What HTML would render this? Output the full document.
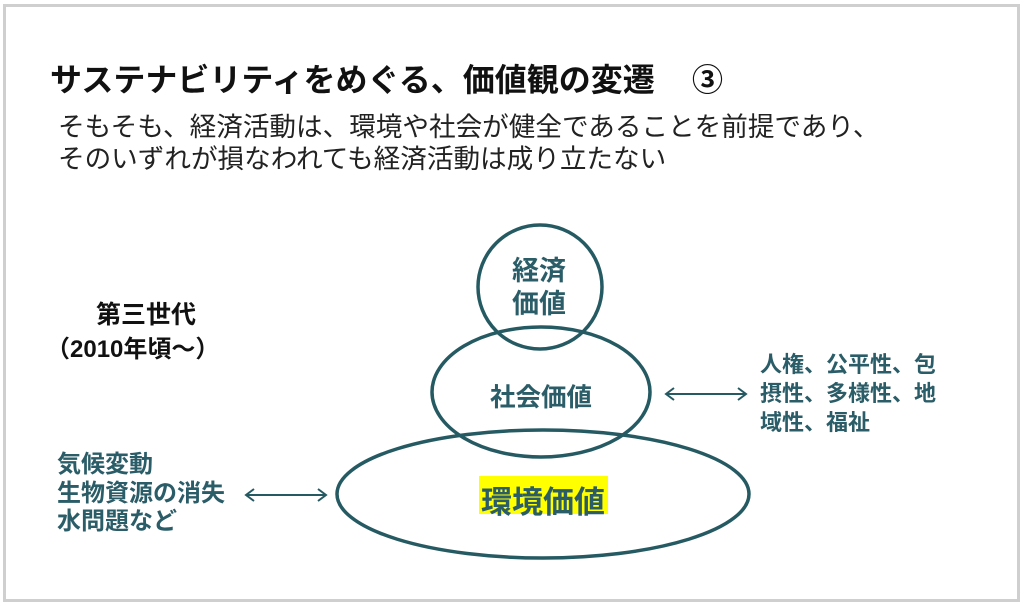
<!DOCTYPE html>
<html><head><meta charset="utf-8"><style>
html,body{margin:0;padding:0;background:#fff;}
body{width:1024px;height:606px;position:relative;overflow:hidden;font-family:"Liberation Sans","Noto Sans CJK JP",sans-serif;}
.frame{position:absolute;left:3px;top:4px;width:1011px;height:592px;border:3px solid #cfcfcf;}
.t{position:absolute;white-space:nowrap;}
.teal{color:#2b5d68;font-weight:bold;}
</style></head><body>
<div class="frame"></div>
<div class="t" style="left:50px;top:55px;font-size:32px;font-weight:bold;color:#111;">サステナビリティをめぐる、価値観の変遷</div>
<div class="t" style="left:692px;top:55px;font-size:31px;font-weight:bold;color:#111;">③</div>
<div class="t" style="left:58px;top:111px;font-size:26.6px;color:#222;line-height:32px;">そもそも、経済活動は、環境や社会が健全であることを前提であり、<br>そのいずれが損なわれても経済活動は成り立たない</div>
<div class="t" style="left:96px;top:295px;font-size:25px;font-weight:bold;color:#111;">第三世代</div>
<div class="t" style="left:46px;top:329px;font-size:24px;font-weight:bold;color:#111;">（2010年頃～）</div>
<svg width="1024" height="606" style="position:absolute;left:0;top:0">
<g fill="none" stroke="#255a63" stroke-width="3.5">
<circle cx="540" cy="287" r="62"/>
<ellipse cx="541" cy="392" rx="109" ry="65"/>
<ellipse cx="543" cy="494" rx="206" ry="64"/>
</g>
<g fill="none" stroke="#255a63" stroke-width="2">
<line x1="666" y1="394" x2="746" y2="394"/>
<polyline points="674,388 666,394 674,400"/><polyline points="738,388 746,394 738,400"/>
<line x1="246" y1="495" x2="326" y2="495"/>
<polyline points="254,489 246,495 254,501"/><polyline points="318,489 326,495 318,501"/>
</g>
<rect x="479" y="476" width="129" height="38" fill="#ffff00"/>
</svg>
<div class="t teal" style="left:512px;top:255px;font-size:27px;line-height:33px;text-align:center;">経済<br>価値</div>
<div class="t teal" style="left:490px;top:377px;font-size:25.5px;">社会価値</div>
<div class="t teal" style="left:481px;top:477px;font-size:31px;">環境価値</div>
<div class="t teal" style="left:760px;top:350px;font-size:22px;line-height:29px;">人権、公平性、包<br>摂性、多様性、地<br>域性、福祉</div>
<div class="t teal" style="left:57px;top:451px;font-size:24px;line-height:28.5px;">気候変動<br>生物資源の消失<br>水問題など</div>
</body></html>
